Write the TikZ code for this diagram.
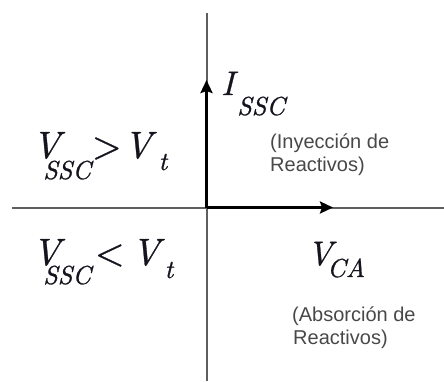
\documentclass[tikz,border=0pt]{standalone}
\usepackage{fontspec}
\setsansfont{Liberation Sans}
\newfontfamily\mvar{lmroman10-italic.otf}[FakeBold=0.8]
\newfontfamily\mrel{lmroman10-regular.otf}[FakeBold=0.8]
\usetikzlibrary{arrows.meta}
\definecolor{axisgray}{RGB}{95,95,95}
\definecolor{notegray}{RGB}{72,72,72}
\definecolor{mathdark}{RGB}{20,20,30}
\newcommand{\lowsub}[2]{\raisebox{#1}{\fontsize{26}{26}\mvar\bfseries #2}}
\newcommand{\ivar}[1]{\rlap{\mvar\bfseries #1}}
\newcommand{\rel}[1]{{\mrel\bfseries #1}}
\begin{document}
\begin{tikzpicture}[x=1pt,y=-1pt,
  axisline/.style={draw=axisgray,line width=2pt},
  vecline/.style={draw=black,line width=2.8pt,-{Stealth[length=13pt,width=12pt,inset=2pt]}},
  bigmath/.style={anchor=base west,inner sep=0pt,text=mathdark,font=\fontsize{38}{40}\selectfont},
  midmath/.style={anchor=base west,inner sep=0pt,text=mathdark,font=\fontsize{34}{36}\selectfont},
  note/.style={anchor=base west,inner sep=0pt,text=notegray,font=\sffamily\fontsize{20}{23}\selectfont}]
\useasboundingbox (0,0) rectangle (444,381);
\coordinate (o) at (206.5,207.5);
\coordinate (ytop) at (206.5,13);
\coordinate (ybot) at (206.5,381);
\coordinate (xl) at (12,207.5);
\coordinate (xr) at (444,207.5);
\coordinate (itip) at (206.5,80);
\coordinate (vtip) at (333,207.5);
\draw[axisline] (ytop) -- (ybot);
\draw[axisline] (xl) -- (xr);
\draw[vecline] (o) -- (itip);
\draw[vecline] (o) -- (vtip);
\node[midmath] (isc) at (221,95) {\ivar{I}\kern16pt\lowsub{-20pt}{SSC}};
\node[note] (in1) at (270,148.5) {(Inyección de};
\node[note] (in2) at (270,171.5) {Reactivos)};
\node[bigmath] (gt) at (32,158) {\ivar{V}\kern11pt\lowsub{-21pt}{SSC}\kern1pt\rel{>}\kern2pt\ivar{V}\kern35pt\lowsub{-12pt}{t}};
\node[bigmath] (lt) at (32,265) {\ivar{V}\kern11pt\lowsub{-19pt}{SSC}\kern4pt\rel{<}\kern7pt\ivar{V}\kern33pt\lowsub{-13pt}{t}};
\node[midmath] (vca) at (307,265) {\ivar{V}\kern20pt\lowsub{-12pt}{CA}};
\node[note] (ab1) at (292,321.5) {(Absorción de};
\node[note] (ab2) at (293,344.5) {Reactivos)};
\end{tikzpicture}
\end{document}
